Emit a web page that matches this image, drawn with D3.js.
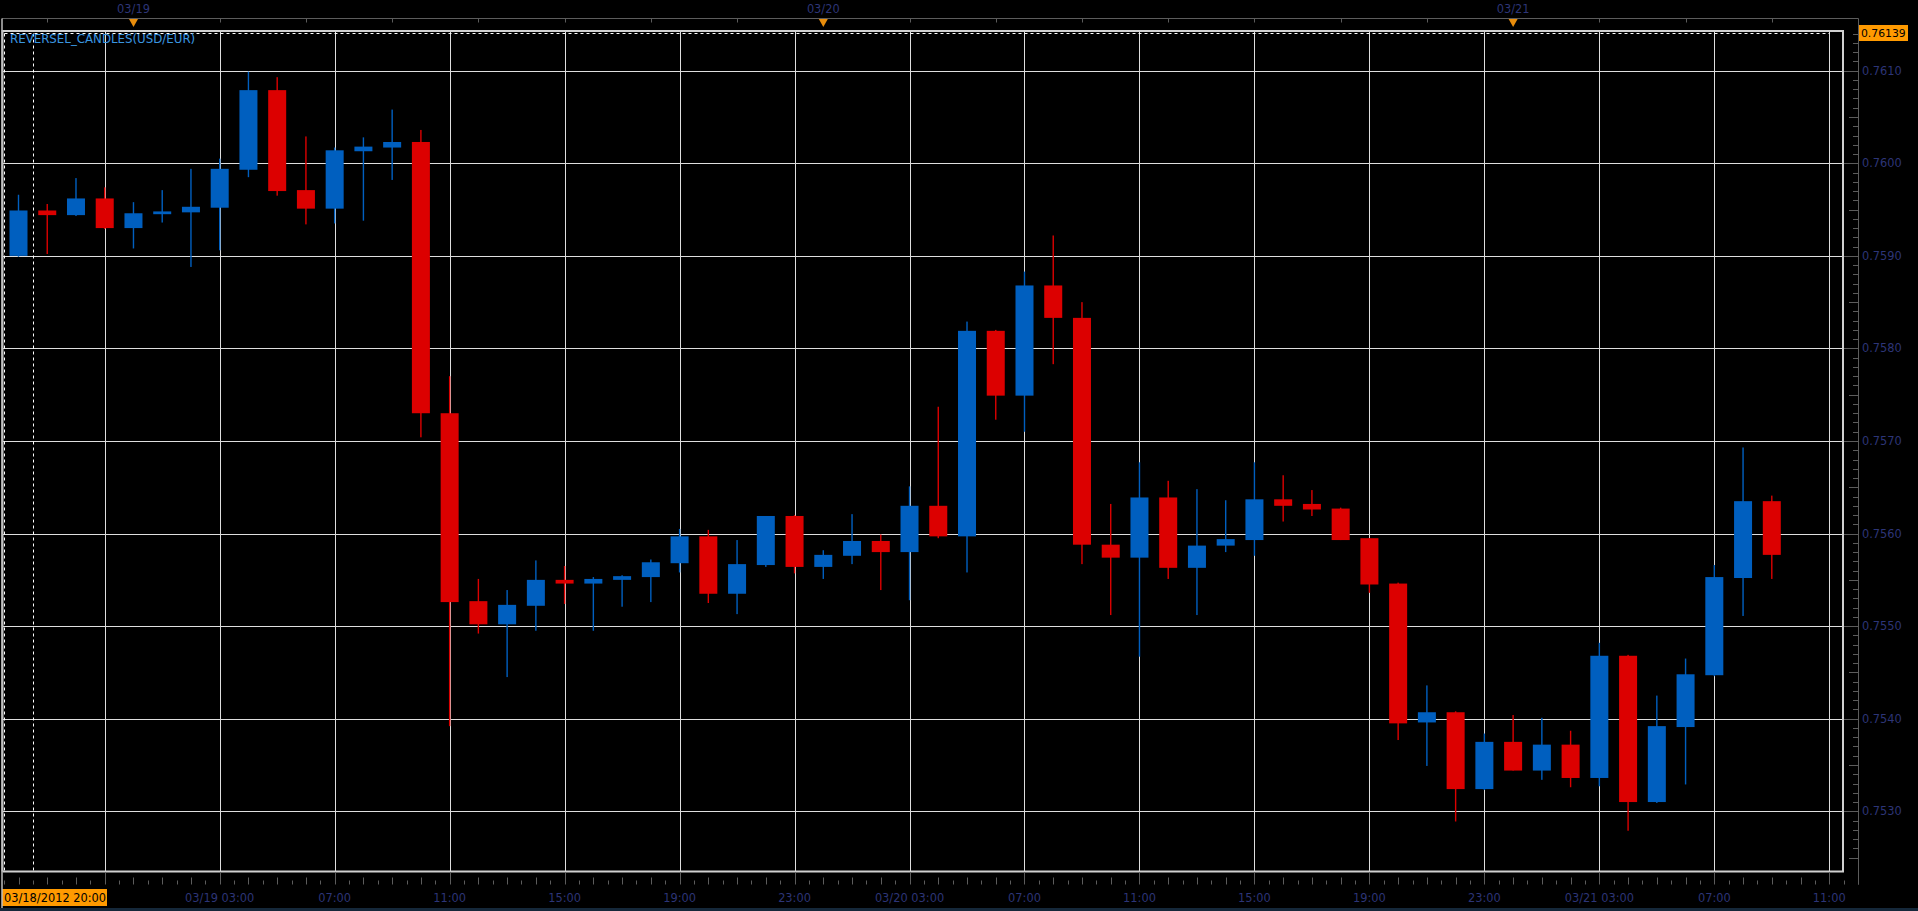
<!DOCTYPE html>
<html>
<head>
<meta charset="utf-8">
<title>REVERSEL_CANDLES(USD/EUR)</title>
<script src="https://cdn.jsdelivr.net/npm/d3@7"></script>
<style>
body{margin:0;background:#000;overflow:hidden}
text{font-family:"DejaVu Sans",Verdana,sans-serif;font-size:11.4px}
</style>
</head>
<body>
<svg id="vis" width="1918" height="911"></svg>
<script>
// hourly candles, 03/18 20:00 -> 03/21 09:00
var firstHour = "2012-03-18T20:00Z";
var lastHour = "2012-03-21T09:00Z";
var seriesName = "REVERSEL_CANDLES(USD/EUR)";
var lastPrice = 0.76139;
var dayLabels = ["03/19", "03/20", "03/21"];
var priceTicks = [0.7530, 0.7540, 0.7550, 0.7560, 0.7570, 0.7580, 0.7590, 0.7600, 0.7610];

var opens = [0.75900,0.75949,0.75944,0.75962,0.75930,0.75945,0.75947,0.75952,0.75993,0.76079,
  0.75971,0.75951,0.76013,0.76017,0.76023,0.75730,0.75527,0.75502,0.75522,0.75550,
  0.75546,0.75550,0.75553,0.75568,0.75597,0.75535,0.75566,0.75619,0.75564,0.75576,
  0.75592,0.75580,0.75630,0.75597,0.75819,0.75749,0.75868,0.75833,0.75588,0.75574,
  0.75639,0.75563,0.75587,0.75593,0.75637,0.75632,0.75627,0.75595,0.75546,0.75396,
  0.75407,0.75324,0.75375,0.75344,0.75372,0.75336,0.75468,0.75310,0.75391,0.75447,
  0.75552,0.75635];
var highs = [0.75966,0.75956,0.75984,0.75974,0.75958,0.75971,0.75994,0.76005,0.76099,0.76093,
  0.76029,0.76017,0.76028,0.76058,0.76036,0.75770,0.75551,0.75539,0.75571,0.75565,
  0.75553,0.75555,0.75572,0.75605,0.75604,0.75593,0.75619,0.75620,0.75582,0.75621,
  0.75599,0.75651,0.75737,0.75829,0.75820,0.75883,0.75922,0.75850,0.75632,0.75677,
  0.75657,0.75648,0.75636,0.75677,0.75663,0.75647,0.75628,0.75595,0.75547,0.75436,
  0.75408,0.75384,0.75404,0.75401,0.75387,0.75482,0.75469,0.75425,0.75465,0.75566,
  0.75693,0.75641];
var lows = [0.75899,0.75902,0.75943,0.75929,0.75908,0.75936,0.75888,0.75906,0.75985,0.75965,
  0.75934,0.75935,0.75938,0.75982,0.75704,0.75392,0.75492,0.75445,0.75495,0.75524,
  0.75495,0.75521,0.75526,0.75558,0.75525,0.75513,0.75564,0.75557,0.75551,0.75567,
  0.75539,0.75528,0.75595,0.75558,0.75723,0.75710,0.75783,0.75567,0.75512,0.75467,
  0.75551,0.75512,0.75580,0.75576,0.75613,0.75619,0.75593,0.75536,0.75377,0.75349,
  0.75289,0.75323,0.75344,0.75334,0.75326,0.75327,0.75279,0.75309,0.75329,0.75446,
  0.75511,0.75551];
var closes = [0.75949,0.75944,0.75962,0.75930,0.75946,0.75948,0.75953,0.75994,0.76079,0.75970,
  0.75951,0.76014,0.76018,0.76023,0.75730,0.75526,0.75502,0.75523,0.75550,0.75546,
  0.75551,0.75554,0.75569,0.75597,0.75535,0.75567,0.75619,0.75564,0.75577,0.75592,
  0.75580,0.75630,0.75597,0.75819,0.75749,0.75868,0.75833,0.75588,0.75574,0.75639,
  0.75563,0.75587,0.75594,0.75637,0.75630,0.75626,0.75593,0.75545,0.75395,0.75407,
  0.75324,0.75375,0.75344,0.75372,0.75336,0.75468,0.75310,0.75392,0.75448,0.75553,
  0.75635,0.75577];

var UP = "#005fbf", DOWN = "#dc0000", GRID = "#dedede", AXIS = "#5c5c5c",
    LABEL = "#2d3577", ORANGE = "#ff9a00";

var L = 2.5, T = 31, R = 1843, B = 871.5, AX = 1858.5, AY = 884.5, TOPY = 18.5;

var t0 = new Date(firstHour), t1 = new Date(lastHour);
var hours = d3.utcHour.range(t0, d3.utcHour.offset(t1, 1));

var x = d3.scaleUtc().domain([t0, t1]).range([18.5, 1771.8]);
var y = d3.scaleLinear().domain([0.7530, 0.7610]).range([811.3, 70.7]);

function snap(v) { return Math.round(v) + 0.5; }

var svg = d3.select("#vis");
svg.append("rect").attr("width", 1918).attr("height", 911).attr("fill", "#000");

// grid
var gGrid = svg.append("g");
var gridHours = d3.utcHour.range(x.invert(L), x.invert(R)).filter(function(d){ return d.getUTCHours() % 4 == 3; });
gGrid.selectAll("line.v").data(gridHours).join("line")
  .attr("x1", function(d){ return snap(x(d)); }).attr("x2", function(d){ return snap(x(d)); })
  .attr("y1", T).attr("y2", B).attr("stroke", GRID).attr("stroke-width", 1);
gGrid.selectAll("line.h").data(priceTicks).join("line")
  .attr("x1", L).attr("x2", R)
  .attr("y1", function(d){ return snap(y(d)); }).attr("y2", function(d){ return snap(y(d)); })
  .attr("stroke", GRID).attr("stroke-width", 1);

// dashed window
var gDash = svg.append("g").attr("stroke", "#ffffff").attr("stroke-width", 1).attr("stroke-dasharray", "3,3").attr("fill", "none");
var xSep = (x(hours[0]) + x(hours[1])) / 2;
gDash.append("line").attr("x1", 4.5).attr("x2", 4.5).attr("y1", 33.5).attr("y2", B);
gDash.append("line").attr("x1", snap(xSep)).attr("x2", snap(xSep)).attr("y1", 33.5).attr("y2", B);
gDash.append("line").attr("x1", 4.5).attr("x2", snap(x(gridHours[gridHours.length - 1]))).attr("y1", 33.5).attr("y2", 33.5);

// candles
var candles = hours.map(function(d, i){
  return {t: d, o: opens[i], h: highs[i], l: lows[i], c: closes[i]};
});
var bodyW = 18;
var gC = svg.append("g");
gC.selectAll("rect.wick").data(candles).join("rect")
  .attr("x", function(d){ return x(d.t) - 0.7; })
  .attr("width", 1.4)
  .attr("y", function(d){ return y(d.h); })
  .attr("height", function(d){ return y(d.l) - y(d.h); })
  .attr("fill", function(d){ return d.c >= d.o ? UP : DOWN; });
gC.selectAll("rect.body").data(candles).join("rect")
  .attr("x", function(d){ return x(d.t) - bodyW / 2; })
  .attr("width", bodyW)
  .attr("y", function(d){ return y(Math.max(d.o, d.c)); })
  .attr("height", function(d){ return Math.max(1.5, Math.abs(y(d.o) - y(d.c))); })
  .attr("fill", function(d){ return d.c >= d.o ? UP : DOWN; });

// plot frame
svg.append("path")
  .attr("d", "M" + L + "," + B + "V" + T + "H" + R + "V" + B + "H" + L)
  .attr("fill", "none").attr("stroke", "#d0d0d0").attr("stroke-width", 2);

svg.append("text").attr("x", 10).attr("y", 43).attr("fill", "#3a96e0")
  .style("font-size", "11.8px").text(seriesName);

// right axis
var gR = svg.append("g");
gR.append("line").attr("x1", AX).attr("x2", AX).attr("y1", TOPY).attr("y2", AY).attr("stroke", AXIS);
var minorTicks = d3.range(7525, 7615).map(function(k){ return k / 10000; })
  .filter(function(v){ return y(v) > T && y(v) < B; });
gR.selectAll("line.t").data(minorTicks).join("line")
  .attr("x1", function(d){
    var k = Math.round(d * 10000);
    return k % 10 == 0 ? R + 1 : (k % 5 == 0 ? 1849 : 1853);
  })
  .attr("x2", AX)
  .attr("y1", function(d){ return snap(y(d)); }).attr("y2", function(d){ return snap(y(d)); })
  .attr("stroke", AXIS);
gR.selectAll("text").data(priceTicks).join("text")
  .attr("x", 1862).attr("y", function(d){ return y(d) + 4; })
  .attr("fill", LABEL).text(d3.format(".4f"));
gR.append("rect").attr("x", 1859).attr("y", y(lastPrice) - 9.6).attr("width", 49).attr("height", 16).attr("fill", ORANGE);
gR.append("text").attr("x", 1861).attr("y", y(lastPrice) + 2.5).attr("fill", "#000")
  .style("font-size", "10.8px").text(d3.format(".5f")(lastPrice));

// bottom axis
var gB = svg.append("g");
gB.append("line").attr("x1", 0).attr("x2", AX).attr("y1", AY).attr("y2", AY).attr("stroke", AXIS);
var halfHours = d3.utcMinute.every(30).range(x.invert(L), x.invert(AX));
gB.selectAll("line").data(halfHours).join("line")
  .attr("x1", function(d){ return snap(x(d)); }).attr("x2", function(d){ return snap(x(d)); })
  .attr("y1", function(d){
    if (d.getUTCMinutes() != 0) return AY - 4;
    return d.getUTCHours() % 4 == 3 ? B + 1 : AY - 7;
  })
  .attr("y2", AY).attr("stroke", AXIS);
var boxRight = 107;
var fmtDay = d3.utcFormat("%m/%d %H:%M"), fmtHour = d3.utcFormat("%H:%M");
gB.selectAll("text").data(gridHours.filter(function(d){ return x(d) > boxRight + 30; })).join("text")
  .attr("x", function(d){ return x(d); }).attr("y", 902)
  .attr("text-anchor", "middle").attr("fill", LABEL)
  .text(function(d){ return d.getUTCHours() == 3 ? fmtDay(d) : fmtHour(d); });
gB.append("rect").attr("x", 2).attr("y", 889).attr("width", boxRight - 2).attr("height", 17).attr("fill", ORANGE);
gB.append("text").attr("x", 4).attr("y", 902).attr("fill", "#000").text(d3.utcFormat("%m/%d/%Y %H:%M")(t0));

// top axis with day markers
var gT = svg.append("g");
gT.append("line").attr("x1", 2).attr("x2", AX).attr("y1", TOPY).attr("y2", TOPY).attr("stroke", AXIS);
gT.append("line").attr("x1", 2).attr("x2", 2).attr("y1", TOPY).attr("y2", 911).attr("stroke", "#bdbdbd").attr("stroke-width", 1.5);
var threeHours = d3.utcHour.every(3).range(x.invert(L), x.invert(R));
gT.selectAll("line.tk").data(threeHours).join("line")
  .attr("x1", function(d){ return snap(x(d)); }).attr("x2", function(d){ return snap(x(d)); })
  .attr("y1", TOPY).attr("y2", TOPY + 4).attr("stroke", AXIS);
var days = d3.utcDay.range(t0, t1);
gT.selectAll("path").data(days).join("path")
  .attr("d", function(d){ var cx = x(d); return "M" + (cx - 4.5) + "," + (TOPY + 0.5) + "H" + (cx + 4.5) + "L" + cx + "," + (TOPY + 8.5) + "Z"; })
  .attr("fill", "#e88d0c");
gT.selectAll("text").data(days).join("text")
  .attr("x", function(d){ return x(d); }).attr("y", 13)
  .attr("text-anchor", "middle").attr("fill", LABEL)
  .text(function(d, i){ return dayLabels[i]; });

svg.append("rect").attr("x", 0).attr("y", 908).attr("width", 1918).attr("height", 3).attr("fill", "#15283a");
</script>
</body>
</html>
